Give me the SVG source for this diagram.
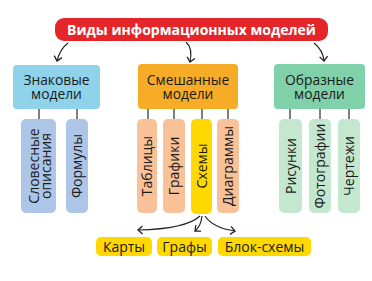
<svg xmlns="http://www.w3.org/2000/svg" width="372" height="281" viewBox="0 0 372 281">
<defs>
<style>
.t{font-family:"Open Sans","Noto Sans","DejaVu Sans",sans-serif;font-size:14px;fill:#1a1a1a}
.h{font-size:13.8px}
.c{text-anchor:middle}
.title{font-family:"Open Sans","Noto Sans","DejaVu Sans",sans-serif;font-size:14px;font-weight:bold;fill:#fff;text-anchor:middle}
.ln{stroke:#555;stroke-width:1.5;fill:none}
.ar{stroke:#222;stroke-width:1.2;fill:none;marker-end:url(#ah)}
</style>
<marker id="ah" markerUnits="userSpaceOnUse" markerWidth="12" markerHeight="12" refX="6" refY="6" orient="auto" viewBox="0 0 12 12">
<path d="M1.5,2 L6,6 L1.5,10" fill="none" stroke="#222" stroke-width="1.3"/>
</marker>
</defs>
<rect width="372" height="281" fill="#fff"/>
<g id="connectors">
<path class="ar" d="M68,43 Q60,49 57,61"/>
<path class="ar" d="M186,42 Q193,48 190,62"/>
<path class="ar" d="M314,43 Q323,50 324,61"/>
<line class="ln" x1="39" y1="109" x2="39" y2="119"/>
<line class="ln" x1="77" y1="109" x2="77" y2="119"/>
<line class="ln" x1="148" y1="109" x2="148" y2="119"/>
<line class="ln" x1="174" y1="109" x2="174" y2="119"/>
<line class="ln" x1="202" y1="109" x2="202" y2="119"/>
<line class="ln" x1="228" y1="109" x2="228" y2="119"/>
<line class="ln" x1="290" y1="109" x2="290" y2="119"/>
<line class="ln" x1="320" y1="109" x2="320" y2="119"/>
<line class="ln" x1="349" y1="109" x2="349" y2="119"/>
<path class="ar" d="M200,216 Q186,229 138,230"/>
<path class="ar" d="M202,216 Q201,226 195,231"/>
<path class="ar" d="M205,216 Q213,228 235,231"/>
</g>
<g id="root">
<rect x="55" y="18" width="273" height="23" rx="9" fill="#e4262a"/>
<text class="title" x="191.5" y="34.5">Виды информационных моделей</text>
</g>
<g id="znak">
<rect x="13" y="65" width="87" height="44" rx="4" fill="#8fd3ea"/>
<text class="t h c" x="56.5" y="85">Знаковые<tspan x="56.5" y="98.5">модели</tspan></text>
</g>
<g id="smesh">
<rect x="138" y="64" width="100" height="45" rx="4" fill="#f7ac27"/>
<text class="t h c" x="188" y="85">Смешанные<tspan x="188" y="98.5">модели</tspan></text>
</g>
<g id="obraz">
<rect x="274" y="64" width="91" height="45" rx="4" fill="#80d0a9"/>
<text class="t h c" x="319.5" y="85">Образные<tspan x="319.5" y="98.5">модели</tspan></text>
</g>
<g id="slov">
<rect x="21" y="119" width="35" height="94" rx="5" fill="#adc6e8"/>
<text class="t c" transform="translate(39,166) rotate(-90)">Словесные<tspan x="0" y="11.5">описания</tspan></text>
</g>
<g id="form">
<rect x="66" y="119" width="22" height="94" rx="5" fill="#adc6e8"/>
<text class="t c" transform="translate(81.5,166) rotate(-90)">Формулы</text>
</g>
<g id="tabl">
<rect x="137" y="119" width="20" height="94" rx="5" fill="#f9c197"/>
<text class="t c" transform="translate(151.5,166) rotate(-90)">Таблицы</text>
</g>
<g id="graf">
<rect x="163" y="119" width="22" height="94" rx="5" fill="#f9c197"/>
<text class="t c" transform="translate(178.5,166) rotate(-90)">Графики</text>
</g>
<g id="shem">
<rect x="191" y="119" width="21" height="95" rx="5" fill="#ffd800"/>
<text class="t c" transform="translate(206.5,166) rotate(-90)">Схемы</text>
</g>
<g id="diag">
<rect x="217" y="119" width="22" height="94" rx="5" fill="#f9c197"/>
<text class="t c" transform="translate(232.5,166) rotate(-90)">Диаграммы</text>
</g>
<g id="ris">
<rect x="279" y="119" width="23" height="94" rx="5" fill="#c4e7d0"/>
<text class="t c" transform="translate(295.5,166) rotate(-90)">Рисунки</text>
</g>
<g id="foto">
<rect x="309" y="119" width="22" height="94" rx="5" fill="#c4e7d0"/>
<text class="t c" transform="translate(324.5,166) rotate(-90)">Фотографии</text>
</g>
<g id="chert">
<rect x="338" y="119" width="22" height="94" rx="5" fill="#c4e7d0"/>
<text class="t c" transform="translate(353.5,166) rotate(-90)">Чертежи</text>
</g>
<g id="karty">
<rect x="96" y="237" width="56" height="19" rx="5" fill="#ffd800"/>
<text class="t c" x="124" y="251.5">Карты</text>
</g>
<g id="grafy">
<rect x="157" y="237" width="55" height="19" rx="5" fill="#ffd800"/>
<text class="t c" x="184.5" y="251.5">Графы</text>
</g>
<g id="blok">
<rect x="218" y="237" width="93" height="19" rx="5" fill="#ffd800"/>
<text class="t c" x="264.5" y="251.5">Блок-схемы</text>
</g>
</svg>
